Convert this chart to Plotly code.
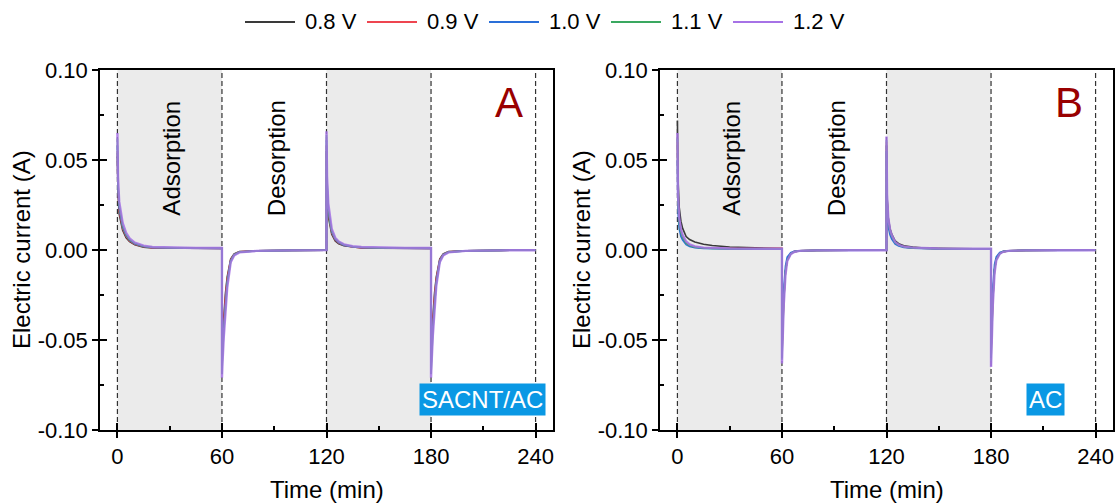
import plotly.graph_objects as go

# ---------------- data ----------------
series_names = ["0.8 V", "0.9 V", "1.0 V", "1.1 V", "1.2 V"]
series_colors = ["#3a3a3a", "#ee4550", "#2a6fd8", "#3aa860", "#a672e6"]

time_min = [0, 0.3, 1, 2, 3, 5, 7, 10, 15, 20, 30, 45, 60,
            60, 60.3, 61, 62, 63, 65, 67, 70, 80, 100, 120,
            120, 120.3, 121, 122, 123, 125, 127, 130, 135, 140, 150, 165, 180,
            180, 180.3, 181, 182, 183, 185, 187, 190, 200, 220, 240]

# Panel A: SACNT/AC
A_08 = [0.052, 0.032, 0.020, 0.0145, 0.011, 0.0068, 0.0046, 0.0029, 0.0016, 0.0012, 0.0010, 0.0009, 0.0008,
        -0.060, -0.050, -0.038, -0.024, -0.015, -0.0050, -0.0021, -0.0009, -0.0004, -0.0002, -0.0001,
        0.055, 0.032, 0.019, 0.0128, 0.0088, 0.0050, 0.0035, 0.0024, 0.0016, 0.0012, 0.0010, 0.0009, 0.0008,
        -0.060, -0.050, -0.038, -0.024, -0.015, -0.0050, -0.0021, -0.0009, -0.0004, -0.0002, -0.0001]
A_09 = [0.055, 0.035, 0.022, 0.016, 0.012, 0.0076, 0.0050, 0.0032, 0.0018, 0.0013, 0.0011, 0.0009, 0.0009,
        -0.063, -0.054, -0.041, -0.026, -0.016, -0.0055, -0.0024, -0.0010, -0.0004, -0.0002, -0.0001,
        0.058, 0.035, 0.021, 0.014, 0.0096, 0.0055, 0.0038, 0.0026, 0.0017, 0.0013, 0.0011, 0.0009, 0.0009,
        -0.063, -0.054, -0.041, -0.026, -0.016, -0.0055, -0.0024, -0.0010, -0.0004, -0.0002, -0.0001]
A_10 = [0.058, 0.036, 0.0235, 0.017, 0.0127, 0.0081, 0.0054, 0.0034, 0.0019, 0.0014, 0.0011, 0.0010, 0.0009,
        -0.066, -0.057, -0.044, -0.028, -0.018, -0.0060, -0.0026, -0.0011, -0.0005, -0.0002, -0.0001,
        0.061, 0.037, 0.0225, 0.0147, 0.0101, 0.0059, 0.0041, 0.0027, 0.0018, 0.0014, 0.0011, 0.0010, 0.0009,
        -0.066, -0.057, -0.044, -0.028, -0.018, -0.0060, -0.0026, -0.0011, -0.0005, -0.0002, -0.0001]
A_11 = [0.062, 0.038, 0.025, 0.018, 0.0135, 0.0086, 0.0058, 0.0037, 0.0021, 0.0015, 0.0012, 0.0010, 0.0010,
        -0.069, -0.060, -0.046, -0.030, -0.019, -0.0063, -0.0027, -0.0012, -0.0005, -0.0002, -0.0001,
        0.064, 0.039, 0.024, 0.0155, 0.0107, 0.0063, 0.0044, 0.0029, 0.0019, 0.0015, 0.0012, 0.0010, 0.0010,
        -0.069, -0.060, -0.046, -0.030, -0.019, -0.0063, -0.0027, -0.0012, -0.0005, -0.0002, -0.0001]
A_12 = [0.065, 0.041, 0.027, 0.020, 0.015, 0.0095, 0.0064, 0.0041, 0.0024, 0.0017, 0.0013, 0.0011, 0.0011,
        -0.071, -0.063, -0.049, -0.032, -0.021, -0.0068, -0.0030, -0.0013, -0.0005, -0.0002, -0.0001,
        0.066, 0.041, 0.026, 0.017, 0.0117, 0.0068, 0.0047, 0.0031, 0.0021, 0.0017, 0.0013, 0.0011, 0.0011,
        -0.071, -0.063, -0.048, -0.031, -0.020, -0.0068, -0.0030, -0.0013, -0.0005, -0.0002, -0.0001]

# Panel B: AC
B_08 = [0.072, 0.040, 0.024, 0.016, 0.012, 0.0075, 0.0058, 0.0045, 0.0032, 0.0025, 0.0017, 0.0011, 0.0008,
        -0.055, -0.042, -0.027, -0.012, -0.0055, -0.0020, -0.0009, -0.0005, -0.0002, -0.0001, -0.0001,
        0.058, 0.030, 0.018, 0.012, 0.0088, 0.0050, 0.0035, 0.0024, 0.0016, 0.0012, 0.0009, 0.0007, 0.0006,
        -0.056, -0.043, -0.027, -0.011, -0.0050, -0.0019, -0.0009, -0.0005, -0.0002, -0.0001, -0.0001]
B_09 = [0.060, 0.028, 0.016, 0.010, 0.0072, 0.0040, 0.0027, 0.0017, 0.0011, 0.0009, 0.0008, 0.0008, 0.0009,
        -0.058, -0.044, -0.028, -0.012, -0.0055, -0.0021, -0.0009, -0.0005, -0.0002, -0.0001, -0.0001,
        0.060, 0.028, 0.016, 0.010, 0.0075, 0.0040, 0.0027, 0.0017, 0.0011, 0.0009, 0.0007, 0.0006, 0.0006,
        -0.058, -0.044, -0.028, -0.011, -0.0050, -0.0019, -0.0009, -0.0005, -0.0002, -0.0001, -0.0001]
B_10 = [0.050, 0.022, 0.012, 0.0075, 0.0055, 0.0030, 0.0020, 0.0013, 0.0009, 0.0007, 0.0006, 0.0005, 0.0005,
        -0.060, -0.040, -0.022, -0.009, -0.0040, -0.0015, -0.0007, -0.0004, -0.0002, -0.0001, -0.0001,
        0.055, 0.024, 0.013, 0.0085, 0.0060, 0.0032, 0.0022, 0.0014, 0.0010, 0.0008, 0.0006, 0.0005, 0.0005,
        -0.060, -0.039, -0.021, -0.008, -0.0038, -0.0014, -0.0007, -0.0004, -0.0002, -0.0001, -0.0001]
B_11 = [0.062, 0.027, 0.015, 0.0095, 0.0070, 0.0038, 0.0025, 0.0016, 0.0011, 0.0008, 0.0007, 0.0006, 0.0006,
        -0.061, -0.046, -0.029, -0.012, -0.0058, -0.0021, -0.0010, -0.0005, -0.0002, -0.0001, -0.0001,
        0.061, 0.029, 0.016, 0.0105, 0.0078, 0.0041, 0.0027, 0.0017, 0.0012, 0.0009, 0.0007, 0.0006, 0.0006,
        -0.062, -0.046, -0.029, -0.011, -0.0053, -0.0020, -0.0009, -0.0005, -0.0002, -0.0001, -0.0001]
B_12 = [0.065, 0.031, 0.018, 0.0115, 0.0083, 0.0047, 0.0031, 0.0020, 0.0013, 0.0010, 0.0008, 0.0007, 0.0007,
        -0.063, -0.049, -0.031, -0.014, -0.0063, -0.0023, -0.0011, -0.0005, -0.0002, -0.0001, -0.0001,
        0.063, 0.031, 0.018, 0.0115, 0.0083, 0.0044, 0.0029, 0.0019, 0.0013, 0.0010, 0.0008, 0.0007, 0.0007,
        -0.065, -0.049, -0.031, -0.013, -0.0058, -0.0021, -0.0010, -0.0005, -0.0002, -0.0001, -0.0001]

panel_A_series = [A_08, A_09, A_10, A_11, A_12]
panel_B_series = [B_08, B_09, B_10, B_11, B_12]

phase_bounds = [0, 60, 120, 180, 240]          # dashed lines
adsorption_spans = [(0, 60), (120, 180)]       # grey shading
phase_labels = ["Adsorption", "Desorption"]
phase_label_x = [31, 91]
panel_letters = ["A", "B"]
panel_materials = ["SACNT/AC", "AC"]

x_ticks = [0, 60, 120, 180, 240]
x_tick_labels = ["0", "60", "120", "180", "240"]
y_ticks = [-0.10, -0.05, 0.00, 0.05, 0.10]
y_tick_labels = ["-0.10", "-0.05", "0.00", "0.05", "0.10"]

# ---------------- figure ----------------
FONT = "Liberation Sans, Arial, sans-serif"
W, H = 1120, 504
x_domains = [[100 / W, 553 / W], [660 / W, 1113 / W]]
y_domain = [1 - 430 / H, 1 - 70 / H]
TICK = 22
TITLE = 24

fig = go.Figure()

for p, series in enumerate([panel_A_series, panel_B_series]):
    xa = "x" if p == 0 else "x2"
    ya = "y" if p == 0 else "y2"
    for i, vals in enumerate(series):
        fig.add_trace(go.Scatter(
            x=time_min, y=vals, mode="lines", name=series_names[i],
            line=dict(color=series_colors[i], width=2.4 if i == 4 else 1.6),
            opacity=0.85 if i == 4 else 1,
            xaxis=xa, yaxis=ya, showlegend=False,
        ))
    # invisible traces to activate overlay (inside-tick) axes
    fig.add_trace(go.Scatter(x=[None], y=[None], xaxis="x%d" % (3 + 2 * p),
                             yaxis="y%d" % (3 + 2 * p), showlegend=False,
                             hoverinfo="skip"))

axis_common = dict(showgrid=False, zeroline=False, color="black", automargin=False,
                   tickfont=dict(family=FONT, size=TICK, color="black"))

for p in range(2):
    n = "" if p == 0 else "2"
    xkey = "xaxis" if p == 0 else "xaxis2"
    ykey = "yaxis" if p == 0 else "yaxis2"
    fig.update_layout(**{
        xkey: dict(domain=x_domains[p], range=[-10, 250], anchor="y" + n,
                   tickvals=x_ticks, ticktext=x_tick_labels,
                   ticks="outside", ticklen=6, tickwidth=1.5, tickcolor="black",
                   showline=True, linewidth=1.5, linecolor="black", mirror=True,
                   **axis_common),
        ykey: dict(domain=y_domain, range=[-0.1, 0.1], anchor="x" + n,
                   tickvals=y_ticks, ticktext=y_tick_labels,
                   ticks="outside", ticklen=6, tickwidth=1.5, tickcolor="black",
                   showline=True, linewidth=1.5, linecolor="black", mirror=True,
                   **axis_common),
    })
    ox = "xaxis%d" % (3 + 2 * p)
    oy = "yaxis%d" % (3 + 2 * p)
    fig.update_layout(**{
        ox: dict(overlaying="x" + n, anchor="y" + n, range=[-10, 250],
                 tickvals=x_ticks, ticks="inside", ticklen=7, tickwidth=1.5,
                 tickcolor="black", showticklabels=False, showgrid=False,
                 zeroline=False, showline=False, automargin=False,
                 minor=dict(tickvals=[30, 90, 150, 210], ticks="inside",
                            ticklen=4, tickwidth=1.5, tickcolor="black",
                            showgrid=False)),
        oy: dict(overlaying="y" + n, anchor="x" + n, range=[-0.1, 0.1],
                 tickvals=y_ticks, ticks="inside", ticklen=7, tickwidth=1.5,
                 tickcolor="black", showticklabels=False, showgrid=False,
                 zeroline=False, showline=False, automargin=False,
                 minor=dict(tickvals=[-0.075, -0.025, 0.025, 0.075], ticks="inside",
                            ticklen=4, tickwidth=1.5, tickcolor="black",
                            showgrid=False)),
    })

shapes = []
annotations = []
for p in range(2):
    n = "" if p == 0 else "2"
    xr = "x" + n
    yr = "y" + n
    for (a, b) in adsorption_spans:
        shapes.append(dict(type="rect", xref=xr, yref=yr + " domain", x0=a, x1=b,
                           y0=0, y1=1, fillcolor="#ebebeb", line=dict(width=0),
                           layer="below"))
    for xb in phase_bounds:
        shapes.append(dict(type="line", xref=xr, yref=yr + " domain", x0=xb, x1=xb,
                           y0=0, y1=1, line=dict(color="#333333", width=1.2,
                                                 dash="5px,3px"),
                           layer="below"))
    for lbl, lx in zip(phase_labels, phase_label_x):
        annotations.append(dict(xref=xr, yref=yr, x=lx, y=0.051, text=lbl,
                                textangle=-90, showarrow=False,
                                font=dict(family=FONT, size=TITLE, color="black")))
    annotations.append(dict(xref=xr, yref=yr, x=225, y=0.082, text=panel_letters[p],
                            showarrow=False,
                            font=dict(family=FONT, size=42, color="#990000")))
    annotations.append(dict(xref=xr, yref=yr, x=[209.5, 211.5][p], y=-0.0828,
                            text=panel_materials[p], showarrow=False,
                            bgcolor="#0a98e4", borderpad=2,
                            font=dict(family=FONT, size=TITLE, color="white")))
    # axis titles
    annotations.append(dict(xref=xr + " domain", yref="paper", x=0.5, y=1 - 489 / H,
                            text="Time (min)", showarrow=False, yanchor="middle",
                            font=dict(family=FONT, size=TITLE, color="black")))
    annotations.append(dict(xref="paper", yref=yr + " domain",
                            x=[22, 582][p] / W, y=0.5,
                            text="Electric current (A)", textangle=-90,
                            showarrow=False, xanchor="center",
                            font=dict(family=FONT, size=TITLE, color="black")))

# legend drawn in paper space (long line samples like the original)
leg_y = 1 - 22 / H
for i, (nm, col) in enumerate(zip(series_names, series_colors)):
    x0 = (245 + 122 * i) / W
    shapes.append(dict(type="line", xref="paper", yref="paper", x0=x0, x1=x0 + 50 / W,
                       y0=leg_y, y1=leg_y, line=dict(color=col, width=1.8)))
    annotations.append(dict(xref="paper", yref="paper", x=x0 + 58 / W, y=leg_y,
                            xanchor="left", yanchor="middle", text=nm, showarrow=False,
                            font=dict(family=FONT, size=TICK, color="black")))

fig.update_layout(
    width=W, height=H, margin=dict(l=0, r=0, t=0, b=0, pad=0),
    paper_bgcolor="white", plot_bgcolor="rgba(0,0,0,0)",
    shapes=shapes, annotations=annotations,
    showlegend=False,
)

fig.write_html("out.html", config={"displayModeBar": False},
               post_script="document.body.style.margin='0';document.body.style.overflow='hidden';")
